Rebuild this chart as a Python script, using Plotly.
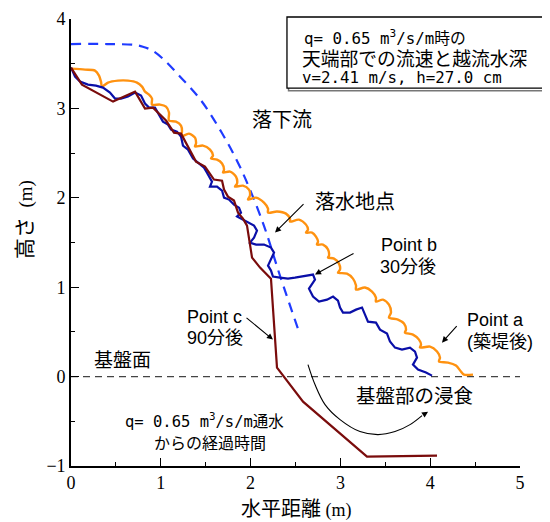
import plotly.graph_objects as go

# ---------------- data ----------------
nappe_x = [0, 0.40, 0.71, 0.80, 0.90, 1.03, 1.21, 1.44, 1.66, 1.88, 2.13, 2.33, 2.55]
nappe_y = [3.72, 3.72, 3.71, 3.69, 3.65, 3.55, 3.36, 3.10, 2.76, 2.35, 1.74, 1.12, 0.47]

point_a_x = [0, 0.156, 0.267, 0.312, 0.334, 0.345,
             0.412, 0.523, 0.635, 0.735, 0.791, 0.824, 0.869, 0.902, 0.902,
             0.991, 1.058, 1.091, 1.091,
             1.169, 1.225, 1.236, 1.225,
             1.314, 1.381, 1.392, 1.381,
             1.470, 1.548, 1.581, 1.559,
             1.626, 1.682, 1.704, 1.693,
             1.771, 1.837, 1.849, 1.826,
             1.915, 1.982, 1.993, 1.971,
             2.060, 2.149, 2.194, 2.194,
             2.294, 2.394, 2.439, 2.439,
             2.539, 2.617, 2.639, 2.617,
             2.684, 2.728, 2.751, 2.739,
             2.806, 2.862, 2.873, 2.862,
             2.929, 2.984, 2.996, 2.973,
             3.073, 3.140, 3.174, 3.174,
             3.274, 3.352, 3.396, 3.396,
             3.474, 3.541, 3.563, 3.541,
             3.641, 3.708, 3.731, 3.719,
             3.808, 3.875, 3.898, 3.886,
             3.998, 4.076, 4.109, 4.098,
             4.198, 4.287, 4.343, 4.376, 4.477]
point_a_y = [3.445, 3.434, 3.423, 3.367, 3.300, 3.244,
             3.289, 3.311, 3.311, 3.289, 3.244, 3.188, 3.154, 3.110, 3.043,
             3.043, 3.020, 2.953, 2.864,
             2.852, 2.808, 2.740, 2.685,
             2.718, 2.673, 2.606, 2.573,
             2.584, 2.539, 2.472, 2.438,
             2.427, 2.383, 2.315, 2.282,
             2.293, 2.237, 2.159, 2.125,
             2.136, 2.092, 2.025, 1.980,
             2.002, 1.946, 1.879, 1.834,
             1.846, 1.823, 1.767, 1.734,
             1.756, 1.700, 1.644, 1.611,
             1.611, 1.566, 1.510, 1.477,
             1.477, 1.421, 1.353, 1.331,
             1.320, 1.264, 1.197, 1.163,
             1.152, 1.096, 1.018, 0.973,
             0.996, 0.951, 0.884, 0.839,
             0.861, 0.805, 0.716, 0.660,
             0.638, 0.593, 0.526, 0.492,
             0.470, 0.414, 0.358, 0.324,
             0.336, 0.280, 0.213, 0.168,
             0.157, 0.123, 0.056, 0.022, 0.022]

point_b_x = [0, 0.045, 0.100, 0.189, 0.278, 0.356, 0.434, 0.490, 0.557, 0.635,
             0.713, 0.780, 0.824, 0.869, 0.935, 0.991, 1.024, 1.080, 1.114, 1.180,
             1.225, 1.247, 1.303, 1.359, 1.414, 1.481, 1.514, 1.570, 1.548, 1.626,
             1.682, 1.704, 1.759, 1.815, 1.871, 1.893, 1.849, 1.915, 1.982, 2.038,
             2.071, 2.038, 1.993, 2.060, 2.149, 2.227, 2.261, 2.216, 2.194, 2.227,
             2.249, 2.327, 2.416, 2.494, 2.584, 2.695, 2.717, 2.650, 2.695, 2.762,
             2.851, 2.918, 2.973, 2.996, 3.029, 3.107, 3.174, 3.241, 3.274, 3.307,
             3.396, 3.441, 3.519, 3.552, 3.608, 3.686, 3.775, 3.831, 3.853, 3.808,
             3.864, 3.953, 4.020]
point_b_y = [3.456, 3.356, 3.300, 3.266, 3.255, 3.233, 3.177, 3.110, 3.110, 3.132,
             3.177, 3.143, 3.054, 3.009, 3.009, 2.919, 2.852, 2.819, 2.763, 2.740,
             2.685, 2.584, 2.539, 2.438, 2.394, 2.338, 2.282, 2.181, 2.125, 2.125,
             2.081, 2.002, 1.980, 1.924, 1.890, 1.834, 1.790, 1.756, 1.723, 1.689,
             1.633, 1.555, 1.499, 1.477, 1.477, 1.443, 1.387, 1.286, 1.242, 1.186,
             1.119, 1.107, 1.096, 1.107, 1.119, 1.141, 1.085, 0.984, 0.895, 0.839,
             0.861, 0.895, 0.850, 0.772, 0.716, 0.716, 0.749, 0.772, 0.694, 0.615,
             0.604, 0.526, 0.481, 0.392, 0.324, 0.302, 0.324, 0.280, 0.213, 0.134,
             0.078, 0.045, 0.011]

point_c_x = [0, 0.122, 0.468, 0.713, 0.824, 0.913, 1.058, 1.147, 1.225, 1.392,
             1.492, 1.592, 1.682, 1.704, 1.748, 1.815, 1.860, 1.915, 1.960, 1.982,
             2.016, 2.105, 2.227, 2.294, 2.584, 3.296, 4.076]
point_c_y = [3.456, 3.266, 3.076, 3.188, 2.998, 3.009, 2.864, 2.729, 2.718, 2.405,
             2.349, 2.204, 2.192, 2.092, 2.013, 1.969, 1.834, 1.767, 1.689, 1.532,
             1.331, 1.219, 1.096, 0.101, -0.280, -0.895, -0.884]

base_x = [0, 5]
base_y = [0, 0]

erosion_x = [2.639, 2.717, 2.829, 2.996, 3.218, 3.419, 3.608, 3.775, 3.909]
erosion_y = [0.134, -0.089, -0.313, -0.481, -0.615, -0.649, -0.615, -0.537, -0.436]
erosion_head = (3.976, -0.392)

x_ticks = [0, 1, 2, 3, 4, 5]
y_ticks = [-1, 0, 1, 2, 3, 4]

# ---------------- figure ----------------
JP = "Noto Sans CJK JP"
MONO = "DejaVu Sans Mono, Noto Sans CJK JP"
ARIAL = "Liberation Sans, Noto Sans CJK JP"
SERIF = "Liberation Serif, Times New Roman, serif"

fig = go.Figure()
fig.add_trace(go.Scatter(x=base_x, y=base_y, mode="lines",
                         line=dict(color="#444444", width=1.2, dash="7px,5px"),
                         hoverinfo="skip", cliponaxis=False))
fig.add_trace(go.Scatter(x=nappe_x, y=nappe_y, mode="lines", line_shape="spline",
                         line=dict(color="#1F3BFF", width=2.2, dash="10px,7px")))
fig.add_trace(go.Scatter(x=point_a_x, y=point_a_y, mode="lines", line_shape="spline",
                         line=dict(color="#FF9210", width=2.4, smoothing=0.8)))
fig.add_trace(go.Scatter(x=point_b_x, y=point_b_y, mode="lines",
                         line=dict(color="#0A0FA8", width=2.2)))
fig.add_trace(go.Scatter(x=point_c_x, y=point_c_y, mode="lines",
                         line=dict(color="#7A0C0C", width=2.2)))
fig.add_trace(go.Scatter(x=erosion_x, y=erosion_y, mode="lines", line_shape="spline",
                         line=dict(color="black", width=1.1)))

annotations = []

def txt(x, y, text, size=19, family=JP, xanchor="center"):
    annotations.append(dict(x=x, y=y, xref="x", yref="y", text=text, showarrow=False,
                            font=dict(family=family, size=size, color="black"),
                            xanchor=xanchor, yanchor="middle",
                            align="left" if xanchor == "left" else "center"))

def arrow(hx, hy, tx, ty):
    annotations.append(dict(x=hx, y=hy, ax=tx, ay=ty, xref="x", yref="y",
                            axref="x", ayref="y", text="", showarrow=True,
                            arrowhead=2, arrowsize=1.1, arrowwidth=1.1, arrowcolor="black"))

# info box text (centred on each line's centre in the reference)
txt(3.497, 3.790, "q= 0.65 m<sup>3</sup>/s/m時の", size=15.8, family=MONO)
txt(3.831, 3.568, "天端部での流速と越流水深", size=18.8, family=JP)
txt(3.686, 3.346, "v=2.41 m/s, h=27.0 cm", size=15.8, family=MONO)

txt(2.350, 2.886, "落下流", size=20)
txt(3.163, 1.969, "落水地点", size=20)
txt(3.764, 1.477, "Point b", size=18, family=ARIAL)
txt(3.753, 1.230, "30分後", size=18, family=ARIAL)
txt(1.27, 0.671, "Point c", size=18, family=ARIAL, xanchor="left")
txt(1.27, 0.436, "90分後", size=18, family=ARIAL, xanchor="left")
txt(4.388, 0.638, "Point a", size=18, family=ARIAL, xanchor="left")
txt(4.388, 0.391, "(築堤後)", size=18, family=ARIAL, xanchor="left")
txt(0.568, 0.201, "基盤面", size=19)
txt(3.820, -0.201, "基盤部の浸食", size=19.5)
txt(1.492, -0.492, "q= 0.65 m<sup>3</sup>/s/m通水", size=15.5, family=MONO)
txt(1.548, -0.727, "からの経過時間", size=16)

arrow(2.272, 1.611, 2.606, 1.946)
arrow(2.717, 1.141, 3.163, 1.387)
arrow(2.249, 0.414, 1.938, 0.671)
arrow(4.131, 0.380, 4.310, 0.582)
arrow(erosion_head[0], erosion_head[1], erosion_x[-1], erosion_y[-1])

# axis titles
annotations.append(dict(x=0.5, y=-0.092, xref="paper", yref="paper", showarrow=False,
                        text="水平距離 <span style='font-family:Liberation Serif;font-size:18px'>(m)</span>",
                        font=dict(family=JP, size=20, color="black"),
                        xanchor="center", yanchor="middle"))
annotations.append(dict(x=-0.107, y=0.5526, xref="paper", yref="paper", showarrow=False,
                        text="高さ  <span style='font-family:Liberation Serif;font-size:19px'>(m)</span>",
                        font=dict(family=JP, size=21, color="black"), textangle=-90,
                        xanchor="center", yanchor="middle"))

# the page body has an 8px margin, so the figure is shrunk/shifted by 8px
fig.update_layout(
    width=542, height=514,
    margin=dict(l=63, r=30, t=11, b=56, autoexpand=False),
    paper_bgcolor="white", plot_bgcolor="white",
    showlegend=False,
    annotations=annotations,
    shapes=[
        dict(type="rect", xref="paper", yref="paper",
             x0=0.4845, x1=1.0545, y0=0.8395, y1=1.001,
             line=dict(color="#777777", width=1.5), fillcolor="rgba(0,0,0,0)"),
        dict(type="rect", xref="paper", yref="paper",
             x0=0.481, x1=1.051, y0=0.8455, y1=1.0045,
             line=dict(color="black", width=1.3), fillcolor="white"),
    ],
    xaxis=dict(range=[0, 5], tickvals=x_ticks, ticks="inside", ticklen=8, tickwidth=1.3,
               showline=True, linecolor="black", linewidth=1.6, showgrid=False,
               zeroline=False, tickfont=dict(family=SERIF, size=18, color="black"),
               minor=dict(dtick=0.5, ticks="inside", ticklen=4, tickwidth=1.2,
                          tickcolor="black", showgrid=False),
               tickcolor="black", fixedrange=True, automargin=False),
    yaxis=dict(range=[-1, 4], tickvals=y_ticks, ticks="inside", ticklen=8, tickwidth=1.3,
               showline=True, linecolor="black", linewidth=1.6, showgrid=False,
               zeroline=False, tickfont=dict(family=SERIF, size=18, color="black"),
               minor=dict(dtick=0.5, ticks="inside", ticklen=4, tickwidth=1.2,
                          tickcolor="black", showgrid=False),
               tickcolor="black", fixedrange=True, automargin=False),
)

fig.write_html("out.html")
